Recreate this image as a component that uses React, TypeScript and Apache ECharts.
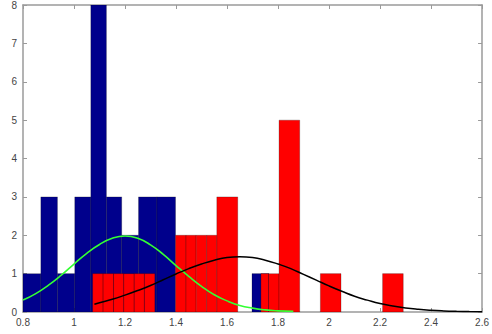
import React, { useEffect, useRef } from "react";
import * as echarts from "echarts";

// Blue histogram: bin edges and counts
const blueEdges = [0.8, 0.870, 0.935, 1.003, 1.066, 1.127, 1.187, 1.253, 1.325, 1.398];
const blueCounts = [1, 3, 1, 3, 8, 3, 2, 3, 3];
const blueExtraStart = [1.698];
const blueExtraEnd = [1.764];
const blueExtraCount = [1];

// Red histogram: bin starts, ends and counts
const redStarts = [1.073, 1.114, 1.155, 1.195, 1.236, 1.276, 1.398, 1.439, 1.479, 1.520, 1.560, 1.733, 1.763, 1.804, 1.966, 2.210];
const redEnds = [1.114, 1.155, 1.195, 1.236, 1.276, 1.317, 1.439, 1.479, 1.520, 1.560, 1.642, 1.763, 1.804, 1.885, 2.047, 2.291];
const redCounts = [1, 1, 1, 1, 1, 1, 2, 2, 2, 2, 3, 1, 1, 5, 1, 1];

// Green fitted curve
const greenX = [0.8, 0.85, 0.9, 0.95, 1.0, 1.05, 1.1, 1.15, 1.2, 1.25, 1.3, 1.35, 1.4, 1.45, 1.5, 1.55, 1.6, 1.65, 1.7, 1.75, 1.8, 1.86];
const greenY = [0.31, 0.48, 0.7, 0.96, 1.25, 1.53, 1.76, 1.92, 1.98, 1.92, 1.75, 1.5, 1.21, 0.93, 0.67, 0.45, 0.29, 0.17, 0.1, 0.055, 0.03, 0.015];

// Black fitted curve
const blackX = [1.08, 1.1, 1.15, 1.2, 1.25, 1.3, 1.35, 1.4, 1.45, 1.5, 1.55, 1.6, 1.65, 1.7, 1.75, 1.8, 1.85, 1.9, 1.95, 2.0, 2.05, 2.1, 2.15, 2.2, 2.25, 2.3, 2.35, 2.4, 2.45, 2.5, 2.55, 2.6];
const blackY = [0.2, 0.24, 0.33, 0.44, 0.56, 0.69, 0.84, 0.99, 1.13, 1.25, 1.35, 1.42, 1.44, 1.42, 1.35, 1.25, 1.13, 0.98, 0.83, 0.68, 0.54, 0.41, 0.31, 0.22, 0.155, 0.105, 0.07, 0.045, 0.028, 0.017, 0.01, 0.006];

const xMin = 0.8;
const xMax = 2.6;
const xStep = 0.2;
const yMin = 0;
const yMax = 8;
const yStep = 1;

const rectRender = (fill: string) => (params: any, api: any) => {
  const x0 = api.value(0);
  const x1 = api.value(1);
  const h = api.value(2);
  const p0 = api.coord([x0, 0]);
  const p1 = api.coord([x1, h]);
  return {
    type: "rect",
    shape: { x: p0[0], y: p1[1], width: p1[0] - p0[0], height: p0[1] - p1[1] },
    style: { fill, stroke: "rgba(0,0,0,0.4)", lineWidth: 0.6 },
  };
};

export default function App() {
  const ref = useRef<HTMLDivElement>(null);
  useEffect(() => {
    if (!ref.current) return;
    const chart = echarts.init(ref.current, null, { renderer: "svg" });
    const blueData: number[][] = blueCounts.map((c, i) => [blueEdges[i], blueEdges[i + 1], c]);
    blueExtraStart.forEach((s, i) => blueData.push([s, blueExtraEnd[i], blueExtraCount[i]]));
    const redData = redStarts.map((s, i) => [s, redEnds[i], redCounts[i]]);
    const axisColor = "#9a9a9a";
    const labelStyle = { color: "#444", fontSize: 10, fontFamily: "Liberation Sans, Arial, sans-serif" };
    const fmt = (v: number) => String(Math.round(v * 10) / 10);
    chart.setOption({
      animation: false,
      backgroundColor: "#fff",
      grid: { left: 23, right: 8, top: 5, bottom: 22, containLabel: false },
      xAxis: [
        {
          type: "value", position: "bottom", min: xMin, max: xMax, interval: xStep,
          axisLine: { show: true, lineStyle: { color: axisColor, width: 1.5 } },
          axisTick: { show: true, inside: true, length: 4, lineStyle: { color: axisColor } },
          axisLabel: { ...labelStyle, margin: 5, formatter: fmt },
          splitLine: { show: false },
        },
        {
          type: "value", position: "top", min: xMin, max: xMax, interval: xStep,
          axisLine: { show: true, onZero: false, lineStyle: { color: axisColor, width: 1.5 } },
          axisTick: { show: true, inside: true, length: 4, lineStyle: { color: axisColor } },
          axisLabel: { show: false },
          splitLine: { show: false },
        },
      ],
      yAxis: [
        {
          type: "value", position: "left", min: yMin, max: yMax, interval: yStep,
          axisLine: { show: true, lineStyle: { color: axisColor, width: 1.5 } },
          axisTick: { show: true, inside: true, length: 4, lineStyle: { color: axisColor } },
          axisLabel: { ...labelStyle, margin: 6 },
          splitLine: { show: false },
        },
        {
          type: "value", position: "right", min: yMin, max: yMax, interval: yStep,
          axisLine: { show: true, onZero: false, lineStyle: { color: axisColor, width: 1.5 } },
          axisTick: { show: true, inside: true, length: 4, lineStyle: { color: axisColor } },
          axisLabel: { show: false },
          splitLine: { show: false },
        },
      ],
      series: [
        {
          type: "custom", name: "blue", xAxisIndex: 0, yAxisIndex: 0,
          renderItem: rectRender("#00008c"), encode: { x: [0, 1], y: 2 }, data: blueData, clip: true, z: 2,
        },
        {
          type: "custom", name: "red", xAxisIndex: 0, yAxisIndex: 0,
          renderItem: rectRender("#ff0000"), encode: { x: [0, 1], y: 2 }, data: redData, clip: true, z: 3,
        },
        {
          type: "line", name: "green", xAxisIndex: 0, yAxisIndex: 0, smooth: true, showSymbol: false, symbol: "none",
          data: greenX.map((x, i) => [x, greenY[i]]),
          lineStyle: { color: "#33ff33", width: 1.6 }, z: 4,
        },
        {
          type: "line", name: "black", xAxisIndex: 0, yAxisIndex: 0, smooth: true, showSymbol: false, symbol: "none",
          data: blackX.map((x, i) => [x, blackY[i]]),
          lineStyle: { color: "#000", width: 1.5 }, z: 5,
        },
      ],
    });
    return () => chart.dispose();
  }, []);
  return (
    <div
      ref={ref}
      style={{ position: "fixed", left: 0, top: 0, width: 492, height: 334, background: "#fff" }}
    />
  );
}
